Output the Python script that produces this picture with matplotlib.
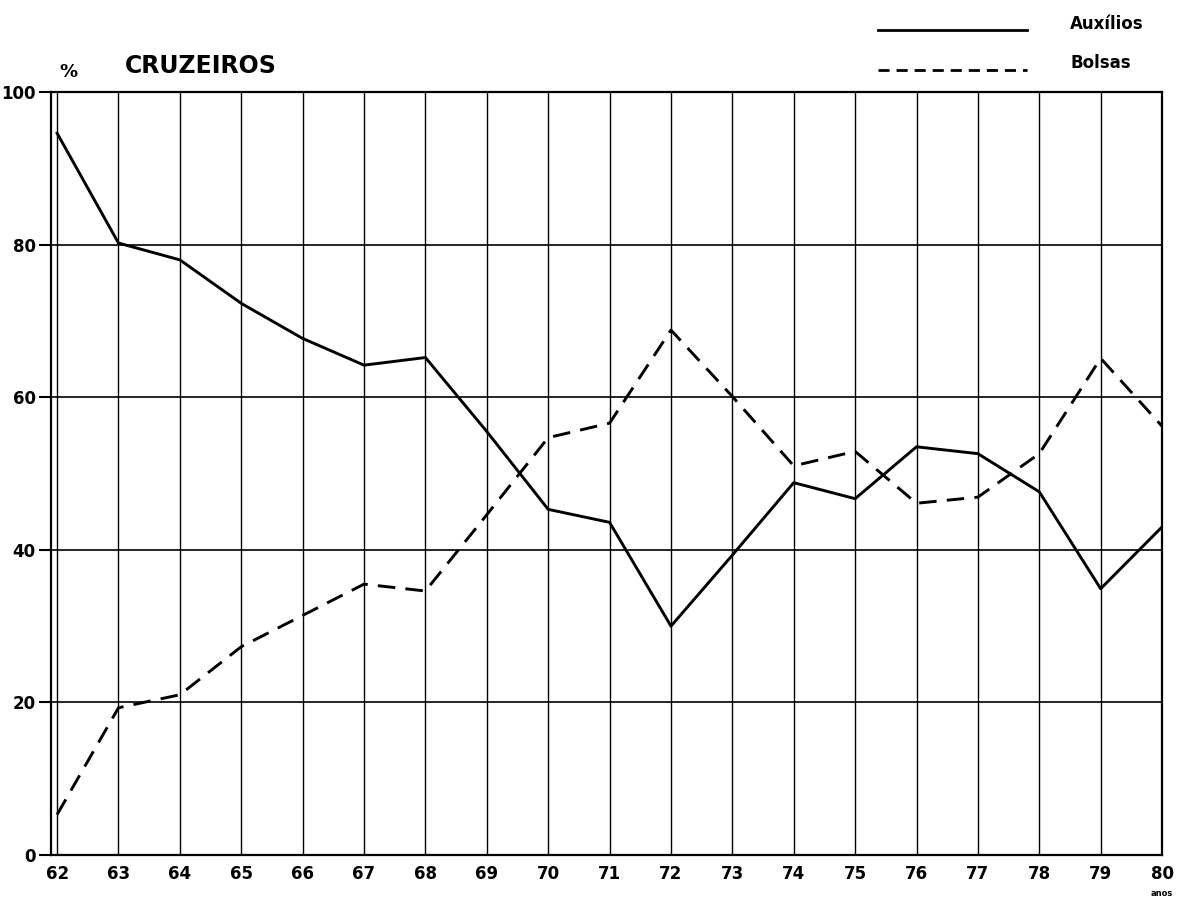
import matplotlib
matplotlib.use("Agg")
import matplotlib.pyplot as plt
from matplotlib.lines import Line2D

years = [62, 63, 64, 65, 66, 67, 68, 69, 70, 71, 72, 73, 74, 75, 76, 77, 78, 79, 80]
auxilios = [94.6, 80.2, 78.0, 72.3, 67.7, 64.2, 65.2, 55.5, 45.3, 43.6, 30.0, 39.3, 48.8, 46.7, 53.5, 52.6, 47.6, 34.9, 43.0]
bolsas = [5.3, 19.3, 21.0, 27.3, 31.4, 35.5, 34.6, 44.6, 54.7, 56.6, 68.8, 60.1, 51.0, 52.9, 46.1, 46.9, 52.6, 65.1, 56.2]
y_ticks = [0, 20, 40, 60, 80, 100]
x_labels = ["62", "63", "64", "65", "66", "67", "68", "69", "70", "71", "72", "73", "74", "75", "76", "77", "78", "79", "80"]

fig = plt.figure(figsize=(11.77, 9.02), dpi=100)
ax = fig.add_axes([0.0433, 0.0521, 0.9440, 0.8459])

ax.set_xlim(61.9, 80)
ax.set_ylim(0, 100)

# grid
for x in years:
    ax.axvline(x, color="black", lw=1.0, zorder=1)
for y in y_ticks[1:-1]:
    ax.axhline(y, color="black", lw=1.2, zorder=1)

ax.plot(years, auxilios, color="black", lw=2.1, solid_joinstyle="round", zorder=3)
ax.plot(years, bolsas, color="black", lw=2.1, linestyle=(0, (6, 3.5)), zorder=3)

for s in ax.spines.values():
    s.set_linewidth(1.6)

ax.set_yticks(y_ticks)
ax.set_yticklabels([str(v) for v in y_ticks], fontsize=12, fontweight="bold", family="DejaVu Sans")
ax.tick_params(axis="y", length=9, width=1.5, pad=2)
ax.set_xticks(years)
ax.set_xticklabels(x_labels, fontsize=12, fontweight="bold", family="DejaVu Sans")
ax.tick_params(axis="x", length=0, pad=7)

fig.text(68 / 1177, 1 - 72 / 902, "%", fontsize=13, fontweight="bold", ha="center", va="center")
fig.text(125 / 1177, 1 - 66 / 902, "CRUZEIROS", fontsize=17, fontweight="bold", ha="left", va="center")
fig.text(1162 / 1177, 1 - 893 / 902, "anos", fontsize=6, fontweight="bold", ha="center", va="center")

# legend
fig.add_artist(Line2D([878 / 1177, 1027 / 1177], [1 - 30 / 902, 1 - 30 / 902], color="black", lw=2.0, transform=fig.transFigure))
fig.add_artist(Line2D([878 / 1177, 1027 / 1177], [1 - 70 / 902, 1 - 70 / 902], color="black", lw=2.0, linestyle=(0, (4, 2.5)), transform=fig.transFigure))
fig.text(1070 / 1177, 1 - 24 / 902, "Auxílios", fontsize=12, fontweight="bold", ha="left", va="center")
fig.text(1070 / 1177, 1 - 63 / 902, "Bolsas", fontsize=12, fontweight="bold", ha="left", va="center")

fig.savefig("out.png", dpi=100, facecolor="white")
